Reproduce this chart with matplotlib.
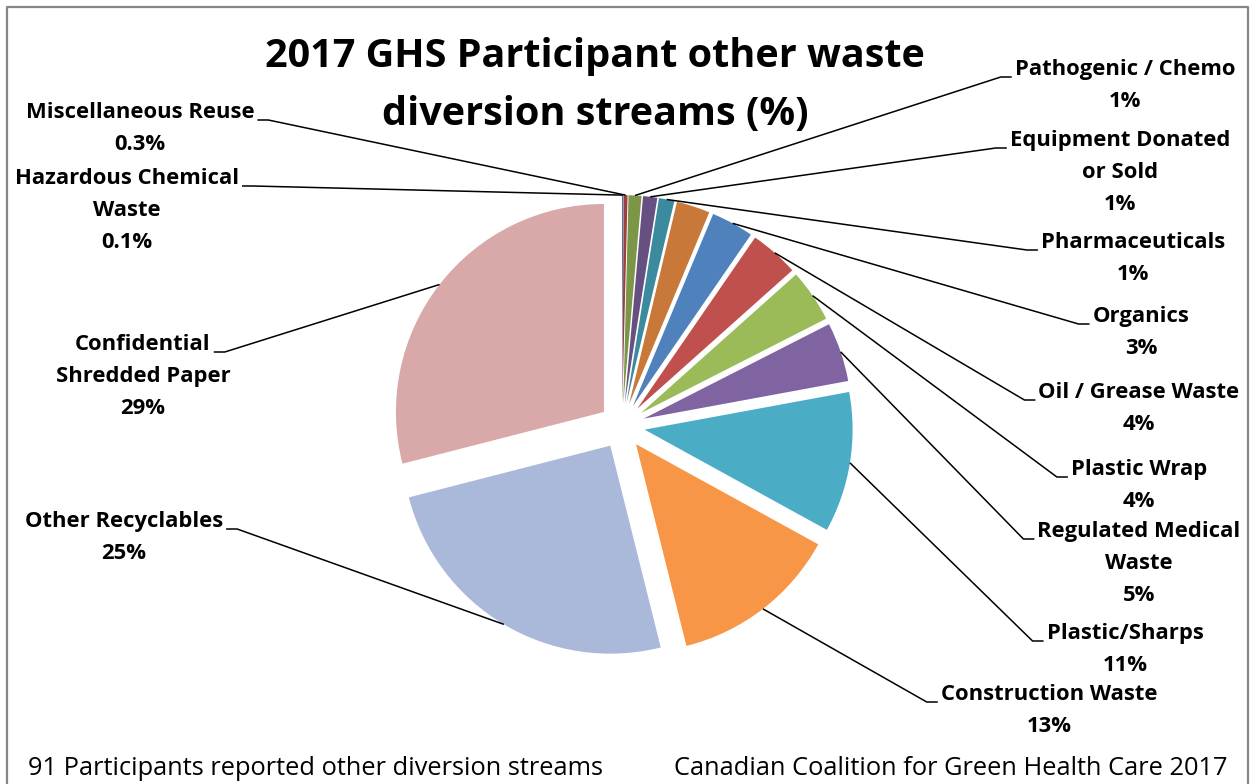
import numpy as np
import matplotlib.pyplot as plt

plt.rcParams['font.family'] = ['Open Sans', 'DejaVu Sans']

# Diversion streams, clockwise from 12 o'clock (smallest first)
streams = ['Hazardous Chemical\nWaste', 'Miscellaneous Reuse', 'Pathogenic / Chemo',
           'Equipment Donated\nor Sold', 'Pharmaceuticals', '', 'Organics',
           'Oil / Grease Waste', 'Plastic Wrap', 'Regulated Medical\nWaste',
           'Plastic/Sharps', 'Construction Waste', 'Other Recyclables',
           'Confidential\nShredded Paper']
shares = [0.1, 0.3, 1.0, 1.1, 1.2, 2.6, 3.3, 3.8, 4.1, 4.6, 10.9, 13.1, 24.9, 29.0]
colors = ['#3f6797', '#9a403e', '#7c9647', '#665082', '#3c8a9e', '#c8793a',
          '#4f81bd', '#c0504d', '#9bbb59', '#8064a2', '#4bacc6', '#f79646',
          '#aab9d9', '#d9a9a9']

# label block: centre x and baseline of first line (pixels from the top)
label_x = [127, 140, 1125, 1120, 1133, 0, 1141, 1139, 1139, 1139, 1125, 1049, 124, 143]
label_base = [184, 118, 75, 146, 248, 0, 322, 398, 475, 537, 639, 700, 527, 350]
line_step = 32

title_lines = ['2017 GHS Participant other waste', 'diversion streams (%)']
title_base = [67, 125]
note_left = '91 Participants reported other diversion streams'
note_right = 'Canadian Coalition for Green Health Care 2017'

W, H = 1252, 784
fig = plt.figure(figsize=(W / 100, H / 100), dpi=100)
ax = fig.add_axes([0, 0, 1, 1])

cx, cy, R = 622, H - 426, 208
wedges, _ = ax.pie(shares, colors=colors, startangle=90, counterclock=False,
                   explode=[0.11 * R] * len(shares), radius=R, center=(cx, cy),
                   wedgeprops=dict(linewidth=0))
ax.set_xlim(0, W)
ax.set_ylim(0, H)
ax.set_aspect('equal')
ax.axis('off')


def pct(v):
    return f'{v:.1f}%' if v < 1 else f'{v:.0f}%'


# data labels, one text per line so the spacing stays fixed
first_lines = []
for name, v, lx, lb in zip(streams, shares, label_x, label_base):
    if not name:
        first_lines.append(None)
        continue
    lines = name.split('\n') + [pct(v)]
    for i, s in enumerate(lines):
        t = ax.text(lx, H - lb - i * line_step, s, ha='center', va='baseline',
                    fontsize=15.8, fontweight='bold')
        if i == 0:
            first_lines.append(t)

for s, b in zip(title_lines, title_base):
    ax.text(595, H - b, s, ha='center', va='baseline', fontsize=28.5,
            fontweight='bold')
ax.text(28, H - 775, note_left, ha='left', va='baseline', fontsize=18.3)
ax.text(1228, H - 775, note_right, ha='right', va='baseline', fontsize=18.3)

# leader lines from each wedge's outer edge to its label
fig.canvas.draw()
for w, t, lb in zip(wedges, first_lines, label_base):
    if t is None:
        continue
    mid = np.deg2rad((w.theta1 + w.theta2) / 2)
    px = w.center[0] + R * np.cos(mid)
    py = w.center[1] + R * np.sin(mid)
    bb = t.get_window_extent()
    sy = H - lb - 2
    if bb.x0 > cx:
        xs = [px, bb.x0 - 14, bb.x0 - 3]
    else:
        xs = [px, bb.x1 + 14, bb.x1 + 3]
    ax.plot(xs, [py, sy, sy], color='black', lw=1.1, solid_capstyle='butt')

# chart border
ax.plot([7, 7, 1248, 1248], [0, H - 7, H - 7, 0], color='#878787', lw=1.6)

fig.savefig('out.png', dpi=100)
